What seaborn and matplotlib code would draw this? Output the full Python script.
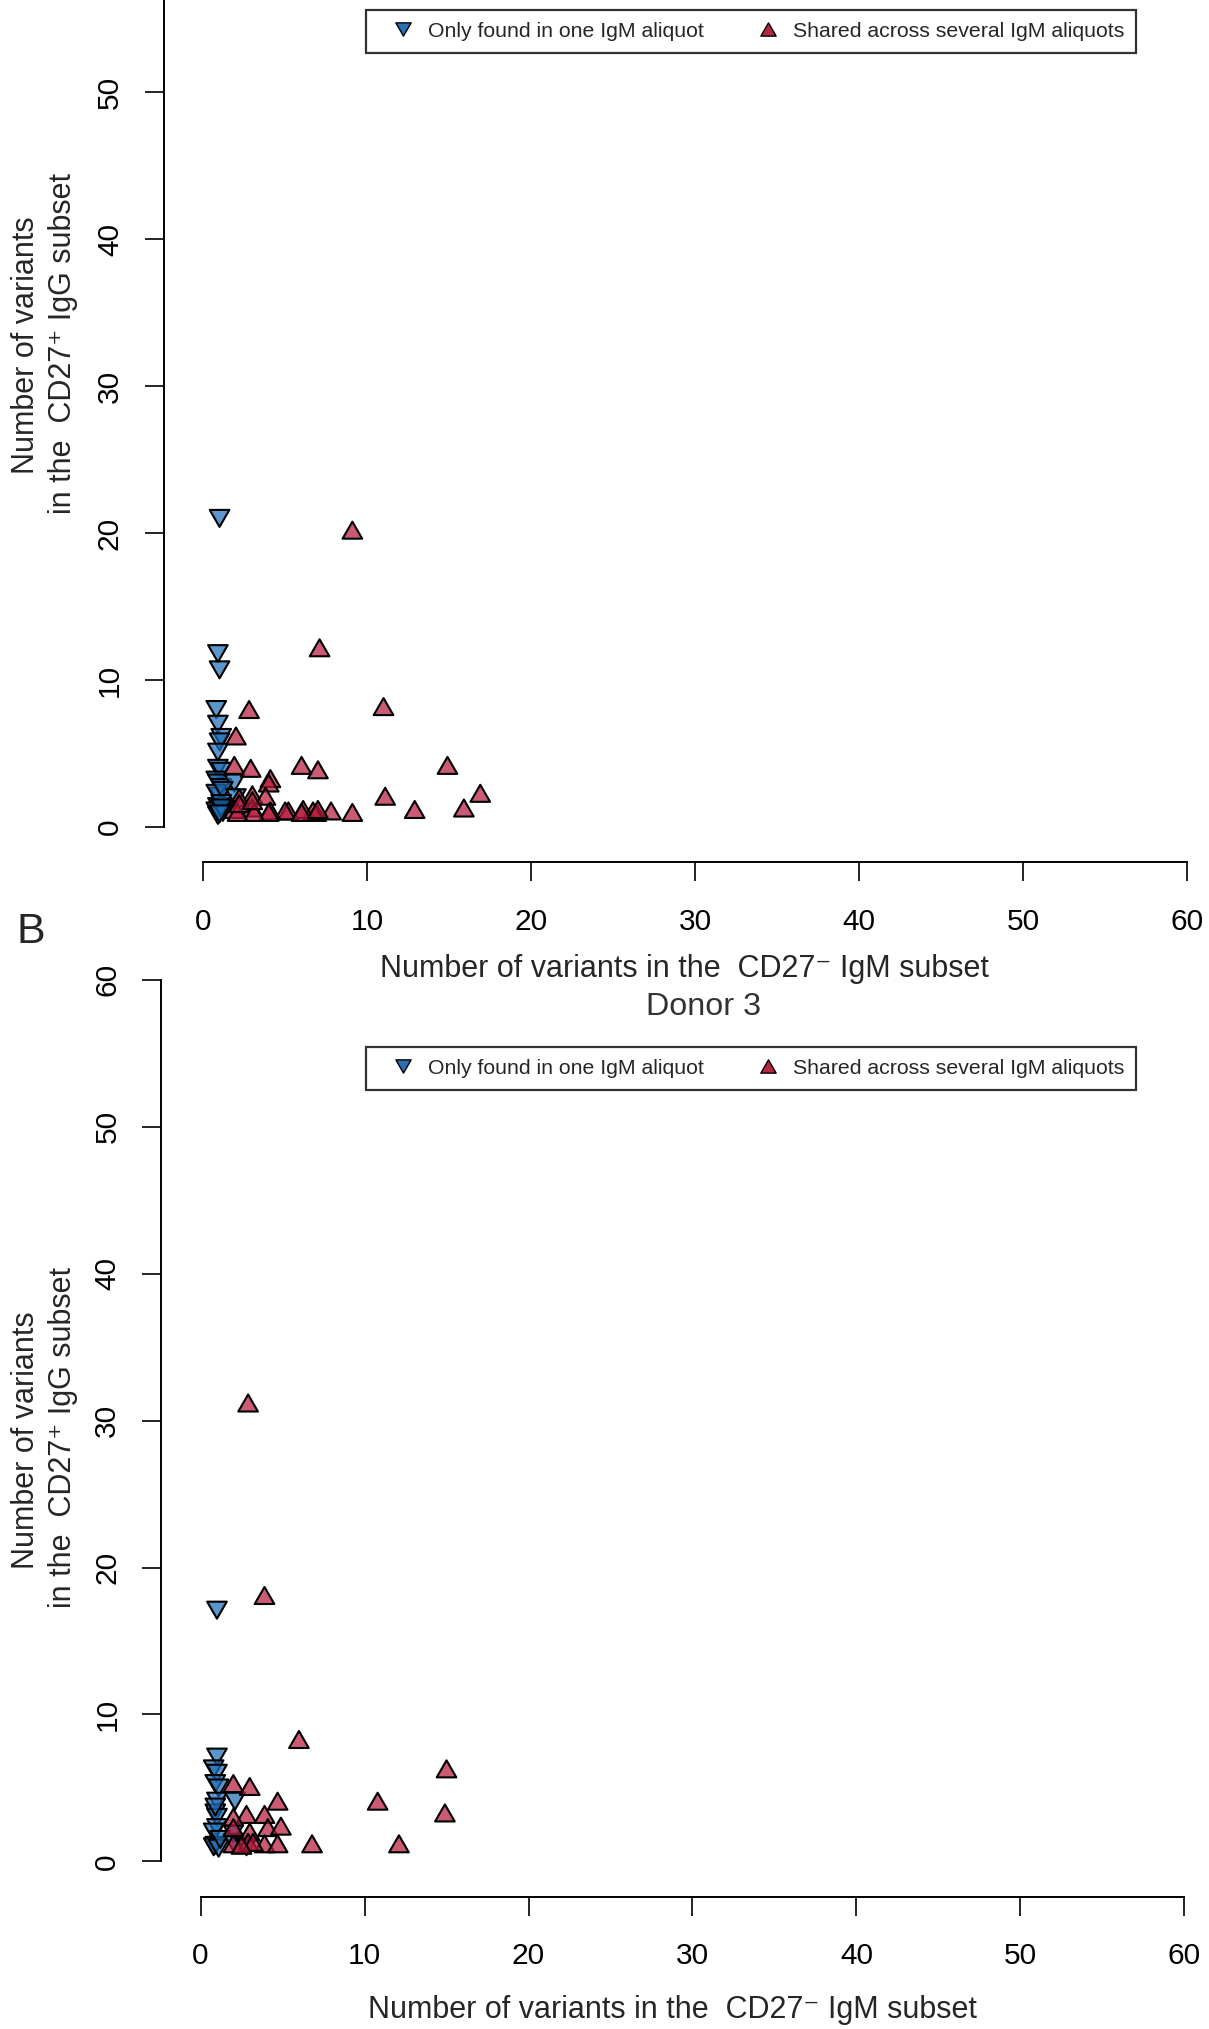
import matplotlib
matplotlib.use('Agg')
import matplotlib.pyplot as plt
from matplotlib.path import Path
from matplotlib.lines import Line2D
import pandas as pd
import seaborn as sns

# values
# upper panel
top_one_x = [1.0, 0.9, 1.0, 0.8, 0.9, 1.1, 1.0, 0.9, 0.9, 1.1, 0.8, 0.9, 1.1,
             1.9, 1.0, 0.8, 1.2, 2.0, 0.9, 1.1, 1.0, 0.8, 1.2, 0.9, 1.1, 1.0]
top_one_y = [21.0, 11.8, 10.7, 8.0, 7.0, 6.1, 5.8, 5.1, 4.0, 3.8, 3.2, 3.0, 2.7,
             3.0, 2.1, 2.3, 2.5, 2.0, 1.4, 1.6, 1.1, 1.1, 1.0, 0.8, 1.3, 0.9]
top_shared_x = [9.1, 7.1, 2.8, 11.0, 2.0, 1.9, 2.9, 6.0, 7.0, 14.9, 4.1, 4.0,
                3.0, 3.8, 2.2, 11.1, 16.9, 12.9, 15.9, 9.1, 7.8, 6.9, 6.7, 6.1,
                5.2, 5.0, 4.1, 4.0, 3.0, 3.1, 1.9, 2.1, 2.2, 3.0, 6.0, 7.0]
top_shared_y = [20.2, 12.2, 8.0, 8.2, 6.2, 4.2, 4.0, 4.2, 3.9, 4.2, 3.3, 3.0,
                2.2, 2.1, 2.0, 2.1, 2.3, 1.2, 1.3, 1.0, 1.1, 1.0, 1.1, 1.2,
                1.1, 1.1, 1.1, 1.0, 1.3, 1.0, 1.2, 1.0, 1.6, 1.8, 1.0, 1.2]

# lower panel (Donor 3)
bot_one_x = [1.0, 1.0, 0.8, 1.0, 0.9, 1.1, 1.0, 2.1, 0.9, 1.0,
             1.0, 0.8, 2.0, 0.9, 0.8, 1.1, 2.0, 2.8, 1.2, 0.9]
bot_one_y = [17.1, 7.1, 6.3, 6.0, 5.3, 5.0, 4.1, 4.1, 3.3, 3.0,
             2.3, 2.0, 1.9, 1.1, 1.0, 0.9, 1.3, 1.0, 1.5, 3.7]
bot_shared_x = [2.9, 3.9, 6.0, 15.0, 14.9, 10.8, 12.1, 6.8, 4.7, 2.0, 3.0, 2.8,
                3.9, 2.0, 4.1, 4.9, 3.0, 3.9, 4.7, 2.9, 2.0, 2.0, 3.2, 2.5]
bot_shared_y = [31.2, 18.1, 8.3, 6.3, 3.3, 4.1, 1.2, 1.2, 4.1, 5.3, 5.1, 3.2,
                3.2, 3.0, 2.3, 2.4, 2.0, 1.2, 1.2, 1.3, 1.2, 2.3, 1.3, 1.1]

ticks = [0, 10, 20, 30, 40, 50, 60]
group_labels = ['Only found in one IgM aliquot', 'Shared across several IgM aliquots']

sns.set_theme(style='white')
plt.rcParams['font.family'] = ['Liberation Sans', 'DejaVu Sans']

# R-style equilateral triangles
UP = Path([(0, 0.866), (1, -0.866), (-1, -0.866), (0, 0.866)], closed=True)
DOWN = Path([(0, -0.866), (1, 0.866), (-1, 0.866), (0, -0.866)], closed=True)
MARKERS = {'one': DOWN, 'shared': UP}
PALETTE = {'one': (0.12, 0.43, 0.72, 0.72), 'shared': (0.72, 0.11, 0.235, 0.72)}
SOLID = {'one': '#2A6FB5', 'shared': '#B5283F'}

W, H = 1209, 2029
fig = plt.figure(figsize=(W / 100, H / 100), dpi=100)


def draw_panel(rect, one_x, one_y, shared_x, shared_y, legend_top, yticks):
    ax = fig.add_axes(rect)
    df = pd.DataFrame({
        'x': one_x + shared_x,
        'y': one_y + shared_y,
        'group': ['one'] * len(one_x) + ['shared'] * len(shared_x),
    })
    sns.scatterplot(data=df, x='x', y='y', hue='group', style='group',
                    palette=PALETTE, markers=MARKERS, s=200,
                    edgecolor='black', linewidth=1.5, legend=False, ax=ax)
    ax.set_xlim(-2.4, 62.4)
    ax.set_ylim(-2.4, 62.4)
    ax.set_xticks(ticks)
    ax.set_yticks(yticks)
    ax.set_xlabel('')
    ax.set_ylabel('')
    ax.patch.set_alpha(0)
    for side in ['top', 'right']:
        ax.spines[side].set_visible(False)
    for side in ['left', 'bottom']:
        ax.spines[side].set_bounds(0, 60)
        ax.spines[side].set_color('black')
        ax.spines[side].set_linewidth(1.4)
    ax.tick_params(bottom=True, left=True, direction='out', length=13.7,
                   width=1.2, labelsize=21.5, colors='black')
    ax.tick_params(axis='x', pad=19)
    ax.tick_params(axis='y', pad=15, labelrotation=90)
    for lab in ax.get_yticklabels():
        lab.set_va('center')

    handles = [Line2D([], [], linestyle='', marker=MARKERS[g], markersize=11,
                      markerfacecolor=SOLID[g], markeredgecolor='black',
                      markeredgewidth=1.0) for g in ['one', 'shared']]
    leg = ax.legend(handles, group_labels, ncol=2, loc='upper left',
                    bbox_to_anchor=(366 / W, legend_top),
                    bbox_transform=fig.transFigure,
                    fontsize=15.3, frameon=True, fancybox=False,
                    borderpad=0.56, handletextpad=0.0, handlelength=2.35,
                    columnspacing=1.85, borderaxespad=0)
    leg.get_frame().set_edgecolor('black')
    leg.get_frame().set_linewidth(1.6)
    return ax


draw_panel([0.13548, 0.57496, 0.87891, 0.4695],
           top_one_x, top_one_y, top_shared_x, top_shared_y, 1 - 10 / H,
           ticks[:-1])
draw_panel([0.13333, 0.06521, 0.87891, 0.46924],
           bot_one_x, bot_one_y, bot_shared_x, bot_shared_y, 1 - 1047 / H,
           ticks)

xlab = 'Number of variants in the  CD27\u207b IgM subset'
ylab1 = 'Number of variants'
ylab2 = 'in the  CD27\u207a IgG subset'
fs = 22


def fig_text(x, y, s, **kw):
    fig.text(x / W, 1 - y / H, s, ha='center', va='center', **kw)


fig_text(684, 969, xlab, fontsize=fs)
fig_text(672, 2010, xlab, fontsize=fs)
fig_text(26, 345, ylab1, rotation=90, fontsize=fs)
fig_text(63, 344, ylab2, rotation=90, fontsize=fs)
fig_text(26, 1440, ylab1, rotation=90, fontsize=fs)
fig_text(63, 1437, ylab2, rotation=90, fontsize=fs)
fig_text(703, 1007, 'Donor 3', color='#333333', fontsize=23.3)
fig.text(17 / W, 1 - 932 / H, 'B', ha='left', va='center', fontsize=31)

fig.savefig('out.png', dpi=100)
